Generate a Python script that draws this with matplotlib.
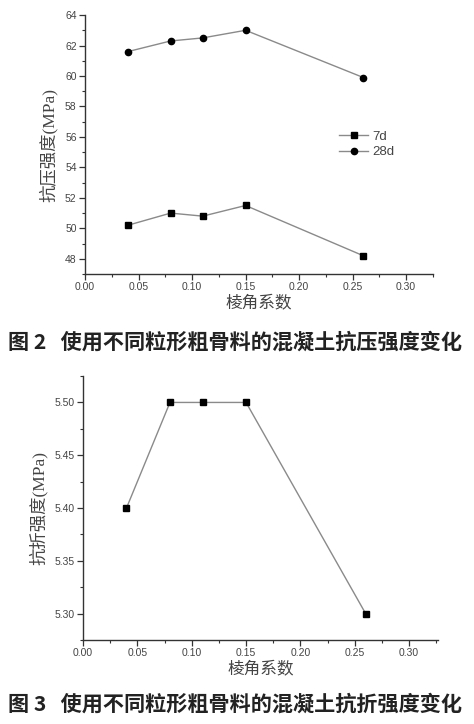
import matplotlib
matplotlib.use("Agg")
import matplotlib.pyplot as plt
from matplotlib.ticker import MultipleLocator, FormatStrFormatter

# data
angularity = [0.04, 0.08, 0.11, 0.15, 0.26]
comp_7d = [50.2, 51.0, 50.8, 51.5, 48.2]
comp_28d = [61.6, 62.3, 62.5, 63.0, 59.9]
flexural = [5.40, 5.50, 5.50, 5.50, 5.30]

caption_2 = "图 2   使用不同粒形粗骨料的混凝土抗压强度变化"
caption_3 = "图 3   使用不同粒形粗骨料的混凝土抗折强度变化"

cjk_serif = ["Liberation Serif", "Noto Sans CJK SC"]
cjk_sans = ["Noto Sans CJK SC", "DejaVu Sans"]
tick_font = "Liberation Sans"
axis_col = "#333333"
line_col = "#8a8a8a"


def style_axes(ax, xlabel, ylabel):
    for side in ["top", "right"]:
        ax.spines[side].set_visible(False)
    for side in ["left", "bottom"]:
        ax.spines[side].set_color(axis_col)
        ax.spines[side].set_linewidth(1.0)
    ax.xaxis.set_major_locator(MultipleLocator(0.05))
    ax.xaxis.set_minor_locator(MultipleLocator(0.025))
    ax.xaxis.set_major_formatter(FormatStrFormatter("%.2f"))
    ax.tick_params(which="major", direction="out", length=4, width=0.9,
                   color=axis_col, labelsize=7.5, labelcolor="#444444", pad=2)
    ax.tick_params(which="minor", direction="out", length=2.5, width=0.8,
                   color=axis_col)
    for lab in ax.get_xticklabels() + ax.get_yticklabels():
        lab.set_family(tick_font)
    ax.set_xlabel(xlabel, family=cjk_serif, fontsize=12, color="#444444",
                  labelpad=2)
    ax.set_ylabel(ylabel, family=cjk_serif, fontsize=12.5, color="#444444",
                  labelpad=5)


fig = plt.figure(figsize=(4.74, 7.24), dpi=100)

# compressive strength
ax1 = fig.add_axes([0.1793, 0.6215, 0.734, 0.3577])
ax1.plot(angularity, comp_7d, color=line_col, lw=1.0, marker="s", ms=4,
         mfc="black", mec="black", label="7d")
ax1.plot(angularity, comp_28d, color=line_col, lw=1.0, marker="o", ms=4.5,
         mfc="black", mec="black", label="28d")
ax1.set_xlim(0, 0.325)
ax1.set_ylim(47, 64)
ax1.yaxis.set_major_locator(MultipleLocator(2))
ax1.yaxis.set_minor_locator(MultipleLocator(1))
ax1.yaxis.set_major_formatter(FormatStrFormatter("%d"))
style_axes(ax1, "棱角系数", "抗压强度(MPa)")
leg = ax1.legend(loc="center", bbox_to_anchor=(0.81, 0.5), frameon=False,
                 handlelength=2.2, handletextpad=0.3, labelspacing=0.25,
                 prop={"family": tick_font, "size": 9.5})
for t in leg.get_texts():
    t.set_color("#444444")

fig.text(0.017, 0.527, caption_2, family=cjk_sans, fontsize=15.2,
         fontweight="bold", va="center", ha="left", color="#222222")

# flexural strength
ax2 = fig.add_axes([0.1751, 0.116, 0.750, 0.3646])
ax2.plot(angularity, flexural, color=line_col, lw=1.0, marker="s", ms=4,
         mfc="black", mec="black")
ax2.set_xlim(0, 0.327)
ax2.set_ylim(5.275, 5.525)
ax2.yaxis.set_major_locator(MultipleLocator(0.05))
ax2.yaxis.set_minor_locator(MultipleLocator(0.025))
ax2.yaxis.set_major_formatter(FormatStrFormatter("%.2f"))
style_axes(ax2, "棱角系数", "抗折强度(MPa)")

fig.text(0.017, 0.027, caption_3, family=cjk_sans, fontsize=15.2,
         fontweight="bold", va="center", ha="left", color="#222222")

fig.savefig("out.png", dpi=100)
